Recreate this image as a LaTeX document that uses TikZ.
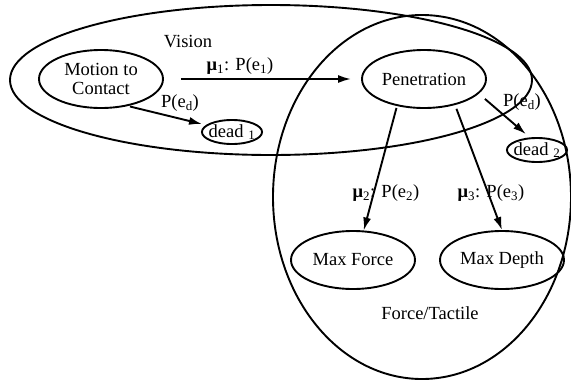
\documentclass[tikz,border=0pt]{standalone}
\usepackage{fontspec}
\setmainfont{Liberation Serif}
\usetikzlibrary{shapes.geometric,arrows.meta}
\begin{document}
\begin{tikzpicture}[x=1pt,y=-1pt,
  every node/.style={font=\fontsize{18.5pt}{19pt}\selectfont},
  region/.style={draw,ellipse,line width=1.9pt,inner sep=0pt},
  state/.style={draw,ellipse,line width=1.9pt,inner sep=0pt,minimum width=124pt,minimum height=58pt,align=center},
  deadst/.style={draw,ellipse,line width=1.9pt,inner xsep=-2pt,inner ysep=0pt,minimum width=60pt,minimum height=24pt},
  trans/.style={line width=1.9pt,-{Latex[length=13pt,width=8pt]}},
  lbl/.style={inner sep=0pt}]
\useasboundingbox (0,0) rectangle (571,381);
% regions
\node[region,minimum width=522pt,minimum height=150pt] (vision) at (271,80) {};
\node[region,minimum width=298pt,minimum height=364pt] (force) at (422,197) {};
\node[lbl] (visionlbl) at (188,42) {Vision};
\node[lbl] (forcelbl) at (430,313) {Force/Tactile};
% states
\node[state] (mc) at (101,79) {Motion to\\Contact};
\node[state] (pen) at (424,79) {Penetration};
\node[state] (mf) at (353,260) {Max Force};
\node[state] (md) at (502,260) {Max Depth};
\node[deadst] (d1) at (232,132) {dead \textsubscript{1}};
\node[deadst] (d2) at (537,150) {dead \textsubscript{2}};
% transitions
\draw[trans,shorten <=17pt,shorten >=10pt] (mc.east) -- (pen.west);
\draw[trans,shorten <=2pt,shorten >=4pt] (mc.-45) -- (d1.165);
\draw[trans,shorten <=8pt,shorten >=5pt] (pen.-15) -- (d2.120);
\draw[trans,shorten <=2pt] (pen.-135) -- (mf.70);
\draw[trans,shorten <=4pt] (pen.-40) -- (md.north);
% labels
\node[lbl] (l1) at (240,66) {\textbf{μ}\textsubscript{1}: P(e\textsubscript{1})};
\node[lbl] (l2) at (180,103) {P(e\textsubscript{d})};
\node[lbl] (l3) at (522,102) {P(e\textsubscript{d})};
\node[lbl] (l4) at (386,193) {\textbf{μ}\textsubscript{2}: P(e\textsubscript{2})};
\node[lbl] (l5) at (491,193) {\textbf{μ}\textsubscript{3}: P(e\textsubscript{3})};
\end{tikzpicture}
\end{document}
